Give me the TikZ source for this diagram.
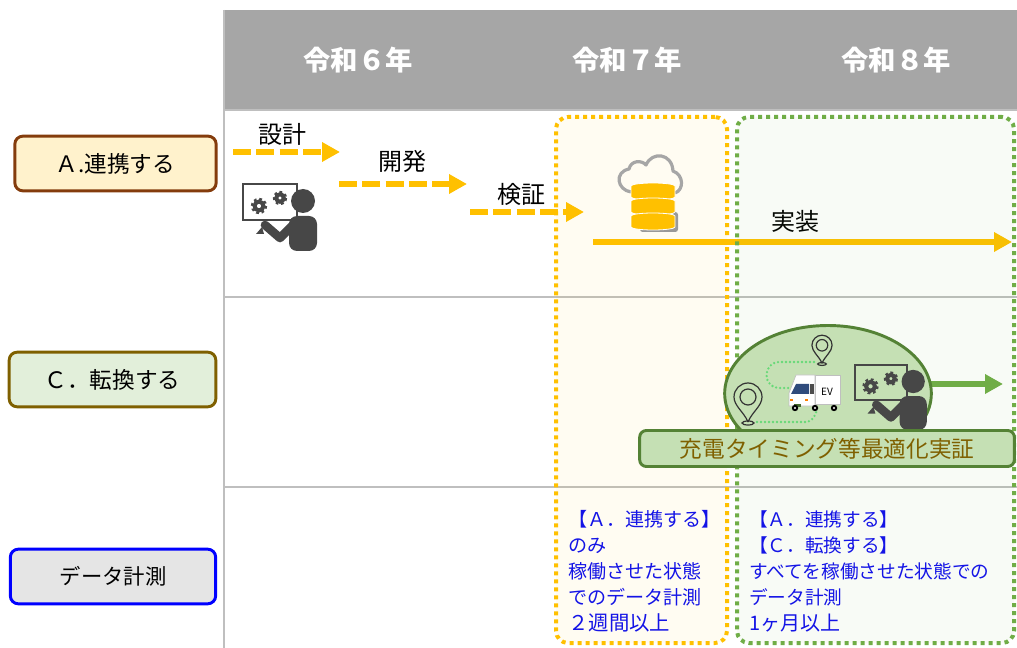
\documentclass[tikz,border=0pt]{standalone}
\usepackage{fontspec}
\usepackage{xcolor}
\usetikzlibrary{arrows.meta, shapes.geometric}
\setmainfont{Noto Sans CJK JP}

\definecolor{headgray}{HTML}{A6A6A6}
\definecolor{gridgray}{HTML}{BFBFBF}
\definecolor{amber}{HTML}{FFC000}
\definecolor{leaf}{HTML}{70AD47}
\definecolor{darkleaf}{HTML}{548235}
\definecolor{paleleaf}{HTML}{C5E0B4}
\definecolor{olive}{HTML}{7F6000}
\definecolor{iconink}{HTML}{474747}
\definecolor{routegreen}{HTML}{66D977}
\definecolor{textblue}{HTML}{1414E6}
\definecolor{glassblue}{HTML}{2F4B7C}

\tikzset{
    yeartext/.style={text=white, font=\fontsize{20.5}{24}\selectfont\bfseries},
    rolebox/.style={draw, line width=2.2pt, rounded corners=6pt, minimum width=151pt, minimum height=41pt, font=\fontsize{17}{20}\selectfont},
    phasetext/.style={font=\fontsize{18}{20}\selectfont},
    notetext/.style={text=textblue, align=left, anchor=north west, inner sep=0pt, font=\fontsize{14}{19.6}\selectfont},
    period/.style={line width=3pt, dash pattern=on 3pt off 3pt, rounded corners=9pt, minimum height=394.5pt, fill opacity=0.05},
    dashflow/.style={amber, line width=4.5pt, dash pattern=on 13.5pt off 4pt, -{Triangle[length=13.5pt, width=14pt]}},
    solidflow/.style={line width=4.5pt, -{Triangle[length=13.5pt, width=14pt]}},
    routeline/.style={routegreen, line width=1.9pt, line cap=round, dash pattern=on 0pt off 3pt},
    gear/.pic={
        \draw[iconink, line width=3pt] (0,0) circle (4.4);
        \draw[iconink, line width=2pt, dash pattern=on 2pt off 2pt] (0,0) circle (6.8);
    },
    engineer/.pic={
        \draw[iconink, line width=1.6pt] (0,0) rectangle (54,36);
        \pic at (16,22) {gear};
        \pic[scale=0.85] at (37,14) {gear};
        \fill[iconink] (13,50) -- (19,43) -- (21,50) -- cycle;
        \draw[iconink, line width=6.5pt, line cap=round, line join=round] (22,41) -- (37,54) -- (50,41);
        \fill[iconink, rounded corners=6pt] (46,67) -- (46,32) -- (74,32) -- (74,67) -- cycle;
        \fill[iconink] (60,17) circle (12);
    },
    mappin/.pic={
        \draw[black!80, line width=0.9pt, fill=paleleaf] (0,24) .. controls (-4,14) and (-14,8) .. (-14,-1)
            arc[start angle=180, end angle=360, radius=14] .. controls (14,8) and (4,14) .. (0,24);
        \draw[black!80, line width=0.9pt] (0,-1) circle (8);
        \draw[black!80, line width=0.9pt] (0,25) ellipse (6 and 2);
    },
}

\begin{document}
\begin{tikzpicture}[x=0.75pt, y=-0.75pt]
    \useasboundingbox (0,0) rectangle (1017,648);

    % header and grid
    \fill[headgray] (224,10) rectangle (1017,110);
    \node[yeartext] (year6) at (358,60) {令和６年};
    \node[yeartext] (year7) at (627,60) {令和７年};
    \node[yeartext] (year8) at (896,60) {令和８年};
    \draw[gridgray, line width=0.9pt] (224,10) -- (224,648);
    \draw[gridgray, line width=0.9pt] (224,110) -- (1017,110);
    \draw[gridgray, line width=0.9pt] (224,297) -- (1017,297);
    \draw[gridgray, line width=0.9pt] (224,487) -- (1017,487);

    % row labels
    \node[rolebox, draw={rgb,255:red,132;green,60;blue,12}, fill=amber!20!white] (rowA) at (115.5,163.5) {Ａ.連携する};
    \node[rolebox, draw=olive, fill=leaf!20!white, minimum width=155pt] (rowC) at (112.5,379.5) {Ｃ．転換する};
    \node[rolebox, draw=blue, fill=black!10, minimum width=154pt, font=\fontsize{16}{20}\selectfont] (rowD) at (113,576.5) {データ計測};

    % phases
    \coordinate (designS) at (233,152);
    \coordinate (designE) at (340,152);
    \coordinate (developS) at (339,184);
    \coordinate (developE) at (467,184);
    \coordinate (verifyS) at (470,212);
    \coordinate (verifyE) at (584,212);
    \coordinate (buildS) at (593,242);
    \coordinate (buildE) at (1012,242);
    \coordinate (tuneS) at (925,384);
    \coordinate (tuneE) at (1003,384);
    \draw[dashflow] (designS) -- (designE);
    \draw[dashflow] (developS) -- (developE);
    \draw[dashflow] (verifyS) -- (verifyE);
    \draw[solidflow, amber] (buildS) -- (buildE);
    \draw[solidflow, leaf] (tuneS) -- (tuneE);
    \node[phasetext] (design) at (282,134) {設計};
    \node[phasetext] (develop) at (402,161) {開発};
    \node[phasetext] (verify) at (521,194) {検証};
    \node[phasetext] (build) at (795,221) {実装};

    % periods
    \node[period, draw=amber, fill=amber, draw opacity=1, minimum width=128.25pt] (period7) at (641.5,380) {};
    \node[period, draw=leaf, fill=leaf, draw opacity=1, minimum width=207.75pt] (period8) at (875.5,380) {};

    \pic at (243,184) {engineer};

    % cloud and database
    \draw[headgray, line width=2.4pt, line join=round] (631,192) .. controls (617,190) and (614,172) .. (629,169)
        .. controls (631,160) and (642,160) .. (646,165) .. controls (652,151) and (672,153) .. (673,171)
        .. controls (684,175) and (684,190) .. (675,193);
    \fill[black!40, rounded corners=2pt] (640,212) rectangle (678,232);
    \foreach \top/\bottom in {186/197, 201/212, 216/227} {
        \fill[amber, draw=white, line width=0.6pt] (631,\top) -- (631,\bottom) arc[start angle=180, end angle=0, x radius=22, y radius=3] -- (675,\top) arc[start angle=0, end angle=-180, x radius=22, y radius=3] -- cycle;
    }

    % optimisation trial
    \node[ellipse, draw=darkleaf, fill=paleleaf, line width=2.2pt, minimum width=155pt, minimum height=102pt] (trial) at (828,393.5) {};
    \pic at (748,398) {mappin};
    \pic[scale=0.72] at (822,346) {mappin};
    \coordinate (routeA) at (757,422);
    \coordinate (routeB) at (817,408);
    \coordinate (routeC) at (814,362);
    \coordinate (routeD) at (793,388);
    \draw[routeline] (routeA) -- (806,422) .. controls (812,422) and (816,416) .. (routeB);
    \draw[routeline] (routeC) -- (780,362) .. controls (762,362) and (762,388) .. (780,388) -- (routeD);
    % truck
    \fill[white, draw=black!25, line width=0.5pt] (815,375) rectangle (840,404);
    \fill[white, draw=black!25, line width=0.5pt] (815,375) -- (796,375) -- (789,393) -- (789,406) -- (815,406) -- cycle;
    \fill[glassblue] (796,384) -- (809,384) -- (809,394) -- (791,394) -- cycle;
    \fill[black!70] (810,384) rectangle (814,394);
    \fill[orange] (790,399) rectangle (793,401);
    \fill[orange] (805,399) rectangle (808,401);
    \fill[leaf!60!black] (794,404) rectangle (801,407);
    \foreach \wheelx in {795, 815, 834} {
        \fill[black] (\wheelx,408) circle (3.2);
        \fill[white] (\wheelx,408) circle (1.1);
    }
    \node[font=\fontsize{7.5}{9}\selectfont, inner sep=0pt] (truck) at (827,392) {EV};
    \pic[scale=0.97] at (855,365) {engineer};
    \node[draw=darkleaf, fill=paleleaf, text=olive, line width=2.2pt, rounded corners=5pt, minimum width=281pt, minimum height=27pt, font=\fontsize{17}{20}\selectfont] (trialname) at (827,448.5) {充電タイミング等最適化実証};

    % notes
    \node[notetext, font=\fontsize{14.3}{19.6}\selectfont] (note7) at (568,510) {【Ａ．連携する】\\のみ\\稼働させた状態\\でのデータ計測\\ {\fontsize{15.3}{19.6}\selectfont ２週間以上}};
    \node[notetext] (note8) at (749,510) {【Ａ．連携する】\\【Ｃ．転換する】\\すべてを稼働させた状態での\\データ計測\\{\fontsize{15}{19.6}\selectfont 1ヶ月以上}};
\end{tikzpicture}
\end{document}
